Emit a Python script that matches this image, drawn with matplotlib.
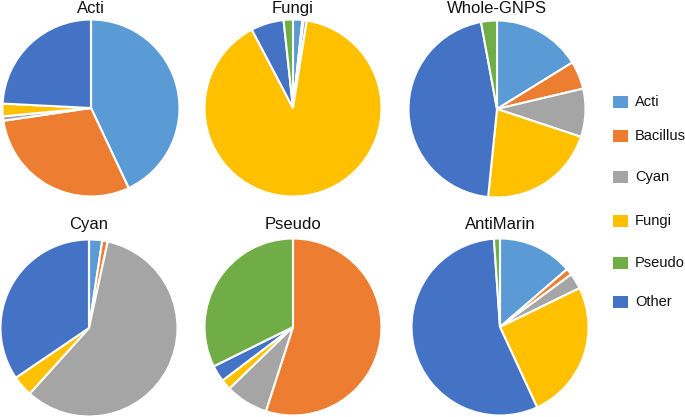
import matplotlib.pyplot as plt
from matplotlib.patches import Rectangle

plt.rcParams['font.family'] = ['Liberation Sans', 'DejaVu Sans']

# slice order inside each pie (clockwise from 12 o'clock)
slice_order = ['Acti', 'Bacillus', 'Cyan', 'Fungi', 'Other', 'Pseudo']
legend_order = ['Acti', 'Bacillus', 'Cyan', 'Fungi', 'Pseudo', 'Other']
colors = {'Acti': '#5B9BD5', 'Bacillus': '#ED7D31', 'Cyan': '#A5A5A5',
          'Fungi': '#FFC000', 'Pseudo': '#70AD47', 'Other': '#4472C4'}

titles = ['Acti', 'Fungi', 'Whole-GNPS', 'Cyan', 'Pseudo', 'AntiMarin']

# percentages, in slice_order
acti = [43.0, 29.7, 0.8, 2.3, 24.2, 0.0]
fungi = [1.7, 0.2, 0.6, 89.8, 6.0, 1.7]
whole_gnps = [16.2, 5.1, 8.8, 21.5, 45.5, 2.9]
cyan = [2.4, 1.0, 58.3, 3.8, 34.5, 0.0]
pseudo = [0.0, 54.9, 7.8, 1.9, 3.0, 32.3]
antimarin = [13.7, 1.2, 2.9, 25.4, 55.9, 1.1]

data = [acti, fungi, whole_gnps, cyan, pseudo, antimarin]

W, H = 685, 417
fig = plt.figure(figsize=(W / 100, H / 100), dpi=100)

# pie centres / radius in pixels, title baseline in pixels
centres = [(91, 108), (293, 108), (497, 109), (89, 328), (293, 327), (500, 327)]
radius = 88.5
title_y = [13, 13, 13, 229, 229, 229]

for vals, title, (cx, cy), ty in zip(data, titles, centres, title_y):
    ax = fig.add_axes([(cx - radius) / W, 1 - (cy + radius) / H,
                       2 * radius / W, 2 * radius / H])
    ax.pie(vals, colors=[colors[k] for k in slice_order], startangle=90,
           counterclock=False,
           wedgeprops=dict(edgecolor='white', linewidth=1.5))
    ax.set_xlim(-1, 1)
    ax.set_ylim(-1, 1)
    ax.set_aspect('equal')
    fig.text(cx / W, 1 - ty / H, title, ha='center', va='baseline',
             fontsize=12, color='#111111')

# legend
leg_y = [102, 136, 177, 221, 263, 302]
for name, y in zip(legend_order, leg_y):
    fig.patches.append(Rectangle((613 / W, 1 - (y + 6) / H), 15 / W, 12 / H,
                                 transform=fig.transFigure,
                                 facecolor=colors[name], edgecolor='none'))
    fig.text(635 / W, 1 - y / H, name, ha='left', va='center',
             fontsize=10.5, color='#111111')

plt.savefig('out.png', dpi=100)
plt.close()
